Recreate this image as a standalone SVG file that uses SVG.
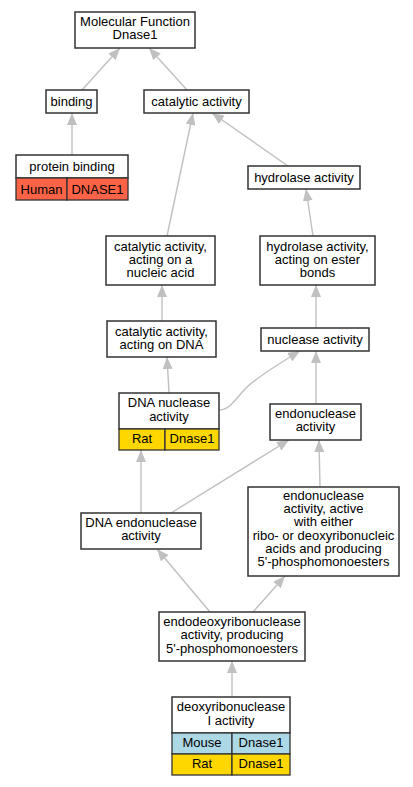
<svg xmlns="http://www.w3.org/2000/svg" width="413" height="787" viewBox="0 0 413 787">
<style>
.n{fill:#ffffff;stroke:#333333;stroke-width:1.5}
.c{stroke:#333333;stroke-width:1.3}
.t{font-family:"Liberation Sans",Arial,sans-serif;font-size:13px;fill:#000000;text-anchor:middle}
.e{fill:none;stroke:#c0c0c0;stroke-width:1.4}
.hu{fill:#ff6347}
.ra{fill:#ffd700}
.mo{fill:#add8e6}
</style>
<defs>
<marker id="ah" markerUnits="userSpaceOnUse" markerWidth="12" markerHeight="10" refX="12" refY="5" orient="auto" viewBox="0 0 12 10">
<path d="M0,0 L12,5 L0,10 z" fill="#c0c0c0"/>
</marker>
</defs>
<rect width="413" height="787" fill="#ffffff"/>
<g id="edges">
<path class="e" marker-end="url(#ah)" d="M82,90 L120,48"/>
<path class="e" marker-end="url(#ah)" d="M187,90 L149,48"/>
<path class="e" marker-end="url(#ah)" d="M72,155 L72,113"/>
<path class="e" marker-end="url(#ah)" d="M167,236 L193,113"/>
<path class="e" marker-end="url(#ah)" d="M288,166 L212,113"/>
<path class="e" marker-end="url(#ah)" d="M313,236 L306,189"/>
<path class="e" marker-end="url(#ah)" d="M162,321 L162,285"/>
<path class="e" marker-end="url(#ah)" d="M316,328 L316,285"/>
<path class="e" marker-end="url(#ah)" d="M169,393 L167,357"/>
<path class="e" marker-end="url(#ah)" d="M219,410 C229,410 234,401 245,389 C256,378 280,363 300,351"/>
<path class="e" marker-end="url(#ah)" d="M316,404 L316,351"/>
<path class="e" marker-end="url(#ah)" d="M141,513 L141,450"/>
<path class="e" marker-end="url(#ah)" d="M171,513 L289,440"/>
<path class="e" marker-end="url(#ah)" d="M320,487 L319,440"/>
<path class="e" marker-end="url(#ah)" d="M210,612 L157,549"/>
<path class="e" marker-end="url(#ah)" d="M253,612 L285,576"/>
<path class="e" marker-end="url(#ah)" d="M232,697 L232,661"/>
</g>
<g id="n_mf">
<rect class="n" x="75" y="12" width="120" height="36"/>
<text class="t" x="135" y="26">Molecular Function</text>
<text class="t" x="135" y="39">Dnase1</text>
</g>
<g id="n_binding">
<rect class="n" x="46" y="90" width="51" height="23"/>
<text class="t" x="71.5" y="105.5">binding</text>
</g>
<g id="n_catalytic">
<rect class="n" x="144" y="90" width="105" height="23"/>
<text class="t" x="196.5" y="105.5">catalytic activity</text>
</g>
<g id="n_protein_binding">
<rect class="n" x="16" y="155" width="112" height="23"/>
<text class="t" x="72" y="171">protein binding</text>
<rect class="hu c" x="16" y="178" width="51" height="22"/>
<rect class="hu c" x="67" y="178" width="61" height="22"/>
<text class="t" x="41.5" y="193.5">Human</text>
<text class="t" x="97.5" y="193.5">DNASE1</text>
</g>
<g id="n_hydrolase">
<rect class="n" x="248" y="166" width="112" height="23"/>
<text class="t" x="304" y="182">hydrolase activity</text>
</g>
<g id="n_cat_nucleic">
<rect class="n" x="106" y="236" width="109" height="49"/>
<text class="t" x="160.5" y="250.5">catalytic activity,</text>
<text class="t" x="160.5" y="263.5">acting on a</text>
<text class="t" x="160.5" y="276.5">nucleic acid</text>
</g>
<g id="n_hyd_ester">
<rect class="n" x="260" y="236" width="115" height="49"/>
<text class="t" x="317.5" y="250.5">hydrolase activity,</text>
<text class="t" x="317.5" y="263.5">acting on ester</text>
<text class="t" x="317.5" y="276.5">bonds</text>
</g>
<g id="n_cat_dna">
<rect class="n" x="107" y="321" width="109" height="36"/>
<text class="t" x="161.5" y="335.5">catalytic activity,</text>
<text class="t" x="161.5" y="348.5">acting on DNA</text>
</g>
<g id="n_nuclease">
<rect class="n" x="261" y="328" width="108" height="23"/>
<text class="t" x="315" y="343.5">nuclease activity</text>
</g>
<g id="n_dna_nuclease">
<rect class="n" x="119" y="393" width="100" height="36"/>
<text class="t" x="169" y="407">DNA nuclease</text>
<text class="t" x="169" y="420.5">activity</text>
<rect class="ra c" x="119" y="429" width="46" height="21"/>
<rect class="ra c" x="165" y="429" width="54" height="21"/>
<text class="t" x="142" y="443">Rat</text>
<text class="t" x="192" y="443">Dnase1</text>
</g>
<g id="n_endonuclease">
<rect class="n" x="270" y="404" width="91" height="36"/>
<text class="t" x="315.5" y="417.5">endonuclease</text>
<text class="t" x="315.5" y="430.5">activity</text>
</g>
<g id="n_dna_endo">
<rect class="n" x="81" y="513" width="120" height="36"/>
<text class="t" x="141" y="527">DNA endonuclease</text>
<text class="t" x="141" y="540">activity</text>
</g>
<g id="n_endo_either">
<rect class="n" x="248" y="487" width="151" height="89"/>
<text class="t" x="323.5" y="500">endonuclease</text>
<text class="t" x="323.5" y="513">activity, active</text>
<text class="t" x="323.5" y="526">with either</text>
<text class="t" x="323.5" y="539.5">ribo- or deoxyribonucleic</text>
<text class="t" x="323.5" y="552.5">acids and producing</text>
<text class="t" x="323.5" y="565.5">5'-phosphomonoesters</text>
</g>
<g id="n_endodeoxy">
<rect class="n" x="159" y="612" width="146" height="49"/>
<text class="t" x="232" y="626">endodeoxyribonuclease</text>
<text class="t" x="232" y="639">activity, producing</text>
<text class="t" x="232" y="652.5">5'-phosphomonoesters</text>
</g>
<g id="n_dnase1">
<rect class="n" x="172" y="697" width="118" height="36"/>
<text class="t" x="231" y="711">deoxyribonuclease</text>
<text class="t" x="231" y="724.5">I activity</text>
<rect class="mo c" x="172" y="733" width="60" height="21"/>
<rect class="mo c" x="232" y="733" width="58" height="21"/>
<text class="t" x="202" y="747">Mouse</text>
<text class="t" x="261" y="747">Dnase1</text>
<rect class="ra c" x="172" y="754" width="60" height="21"/>
<rect class="ra c" x="232" y="754" width="58" height="21"/>
<text class="t" x="202" y="768">Rat</text>
<text class="t" x="261" y="768">Dnase1</text>
</g>
</svg>
